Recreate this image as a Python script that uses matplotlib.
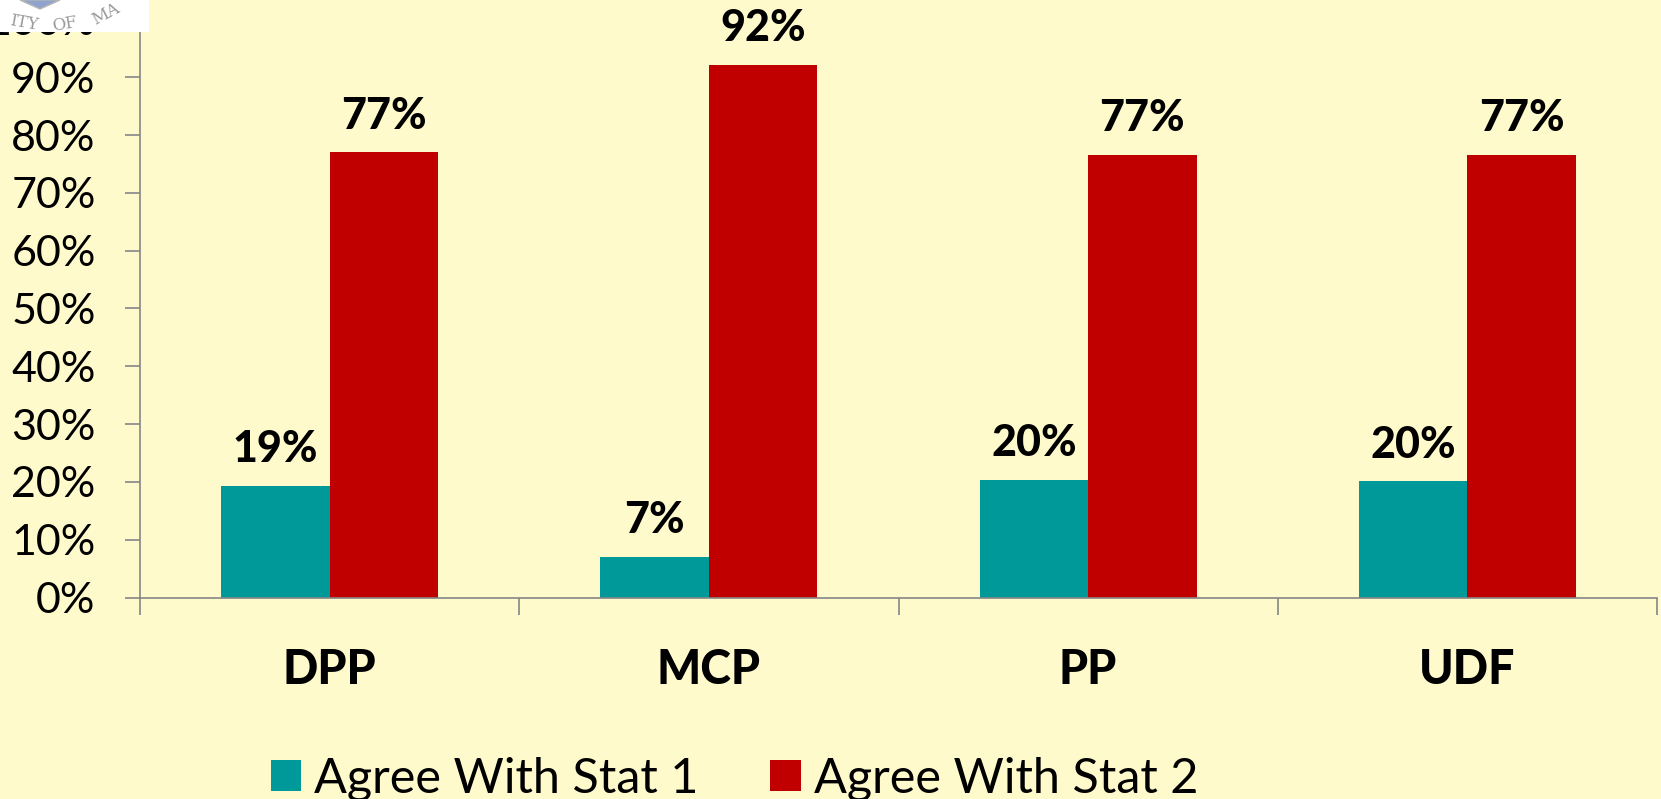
import matplotlib as mpl
import matplotlib.pyplot as plt
from matplotlib.patches import Rectangle, Polygon
import numpy as np

partidos = ["DPP", "MCP", "PP", "UDF"]
stat1 = [19.3, 7.0, 20.3, 20.1]
stat2 = [77.0, 92.2, 76.6, 76.6]
etiquetas1 = ["19%", "7%", "20%", "20%"]
etiquetas2 = ["77%", "92%", "77%", "77%"]
ticks_y = [0, 10, 20, 30, 40, 50, 60, 70, 80, 90, 100]

W, H = 1661, 799
fondo = "#FFFACB"
teal = "#009999"
rojo = "#C00000"
gris = "#868686"

mpl.rcParams["font.family"] = ["Lato", "DejaVu Sans"]

fig = plt.figure(figsize=(W / 100, H / 100), dpi=100, facecolor=fondo)
ax = fig.add_axes([140 / W, 1 - 597.5 / H, 1517 / W, 578 / H], facecolor="none")

x = np.arange(len(partidos))
ancho = 108.5 / 379
b1 = ax.bar(x - ancho / 2, stat1, ancho, color=teal, label="Agree With Stat 1")
b2 = ax.bar(x + ancho / 2, stat2, ancho, color=rojo, label="Agree With Stat 2")

for b, txt in zip(list(b1) + list(b2), etiquetas1 + etiquetas2):
    ax.annotate(txt, (b.get_x() + b.get_width() / 2, b.get_height()),
                xytext=(0, 12), textcoords="offset points", ha="center", va="bottom",
                fontsize=31, fontweight="black", color="black", annotation_clip=False)

ax.set_xlim(-0.5, 3.5)
ax.set_ylim(0, 100)
ax.set_yticks(ticks_y)
ax.set_yticklabels([f"{t}%" for t in ticks_y], fontsize=31)
ax.set_xticks(np.arange(-0.5, 4, 1))
ax.set_xticklabels([])
ax.set_xticks(x, partidos, minor=True, fontsize=33.5, fontweight="black")

ax.tick_params(axis="y", length=11, width=1.2, color=gris, pad=21)
ax.tick_params(axis="x", which="major", length=12.5, width=1.2, color=gris)
ax.tick_params(axis="x", which="minor", length=0, pad=36)

ax.spines["top"].set_visible(False)
ax.spines["right"].set_visible(False)
for lado in ["left", "bottom"]:
    ax.spines[lado].set_color(gris)
    ax.spines[lado].set_linewidth(1.2)

fig.legend(loc="lower left", bbox_to_anchor=(227 / W, -46 / H), ncol=2, frameon=False,
           fontsize=35, handlelength=0.62, handleheight=0.62, handletextpad=0.27,
           columnspacing=1.48)

# resto del logo arriba a la izquierda
fig.add_artist(Rectangle((0, 1 - 32 / H), 149 / W, 32 / H, transform=fig.transFigure,
                         facecolor="white", edgecolor="none", zorder=5))
fig.add_artist(Polygon([[20 / W, 1], [40 / W, 1 - 9 / H], [60 / W, 1]], transform=fig.transFigure,
                       facecolor="#8FA3CC", edgecolor="#b5b5b5", lw=1, zorder=6))
for txt, px, py, rot in [("ITY", 24, 23, -10), ("OF", 65, 24, 10), ("MA", 106, 14, 28)]:
    fig.text(px / W, 1 - py / H, txt, fontsize=12, color="#9a9a9a", family="DejaVu Serif",
             ha="center", va="center", rotation=rot, zorder=6)

fig.savefig("out.png", dpi=100, facecolor=fondo)
